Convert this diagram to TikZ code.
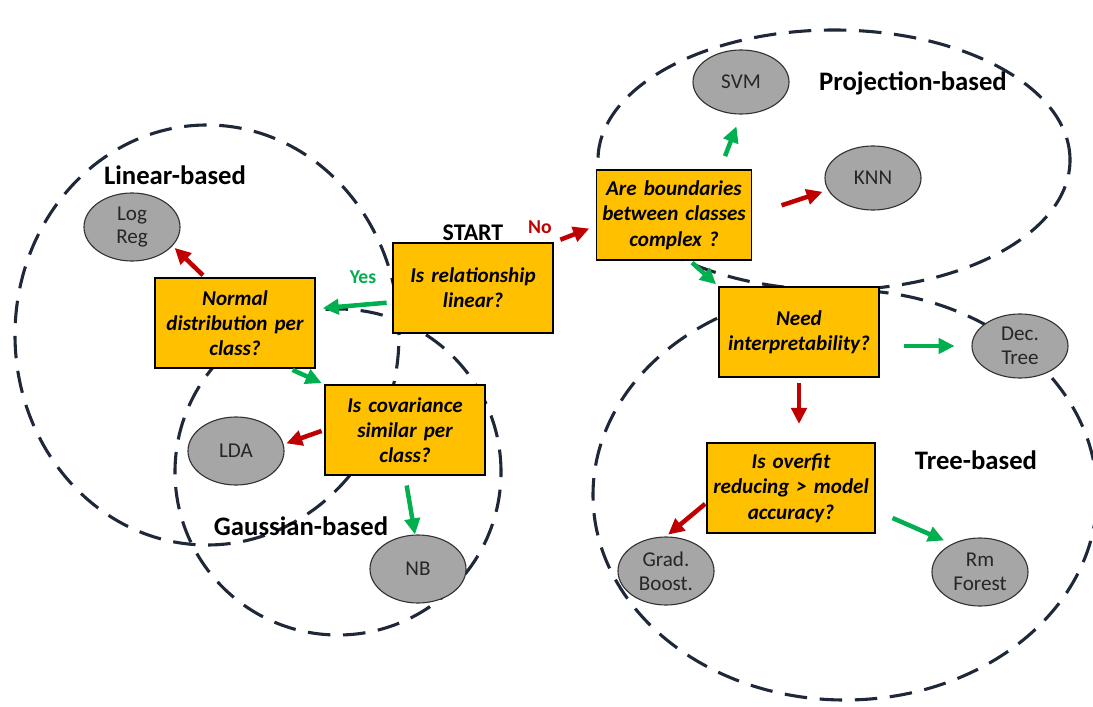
\documentclass[tikz,border=0pt]{standalone}
\usepackage{fontspec}
\setmainfont{Carlito}
\usetikzlibrary{shapes.geometric, arrows.meta, positioning}

\definecolor{boxorange}{HTML}{FFC000}
\definecolor{leafgray}{HTML}{A6A6A6}
\definecolor{yesgreen}{HTML}{00B050}
\definecolor{nored}{HTML}{C00000}
\definecolor{groupline}{HTML}{1E2838}

\begin{document}
\begin{tikzpicture}[x=0.25mm, y=-0.25mm]
      \tikzstyle{question} = [rectangle, fill=boxorange, draw=black, line width=1.1pt, minimum width=40mm, minimum height=22.5mm, text width=38mm, inner sep=1pt, align=center, font=\fontsize{15}{18}\selectfont\bfseries\itshape]
      \tikzstyle{model} = [ellipse, fill=leafgray, draw=black!80, line width=0.8pt, minimum width=24mm, minimum height=17mm, inner sep=0pt, align=center, text=black!85, font=\fontsize{15}{17}\selectfont]
      \tikzstyle{group} = [draw=groupline, line width=2.2pt, dash pattern=on 16pt off 9pt]
      \tikzstyle{grouplabel} = [font=\fontsize{19}{22}\selectfont\bfseries]
      \tikzstyle{yes} = [-{Triangle[length=4mm, width=3.8mm]}, line width=3.2pt, yesgreen, shorten <=2pt, shorten >=2pt]
      \tikzstyle{no} = [-{Triangle[length=4mm, width=3.8mm]}, line width=3.2pt, nored, shorten <=2pt, shorten >=2pt]

      \useasboundingbox (0,0) rectangle (1093,707);

      % dashed family outlines
      \draw[group] (207,335) ellipse [x radius=48mm, y radius=52.5mm];
      \draw[group] (338,472) ellipse [x radius=40.75mm, y radius=40.75mm];
      \draw[group] (834,160) ellipse [x radius=59mm, y radius=32.5mm];
      \draw[group] (845,495) ellipse [x radius=63mm, y radius=51.25mm];

      \node[grouplabel] (linlbl) at (175,175) {Linear-based};
      \node[grouplabel] (gaulbl) at (301,526) {Gaussian-based};
      \node[grouplabel] (projlbl) at (913,83) {Projection-based};
      \node[grouplabel] (treelbl) at (976,460) {Tree-based};

      % questions
      \node[question] (start) at (473,288) {Is relationship\\linear?};
      \node[font=\fontsize{17}{19}\selectfont\bfseries] (startlbl) at (473,233) {START};
      \node[question] (normal) at (235,323) {Normal\\distribution per\\class?};
      \node[question] (cov) at (405,430) {Is covariance\\similar per\\class?};
      \node[question, minimum width=38mm] (bound) at (674,215) {Are boundaries\\between classes\\complex ?};
      \node[question] (need) at (799,332) {Need\\interpretability?};
      \node[question, minimum width=42mm, text width=41mm] (over) at (791,488) {Is overfit\\reducing > model\\accuracy?};

      % models
      \node[model] (logreg) at (132,227) {Log\\Reg};
      \node[model] (lda) at (236,451) {LDA};
      \node[model] (nb) at (418,569) {NB};
      \node[model, minimum height=16mm] (svm) at (741,82) {SVM};
      \node[model, minimum height=16mm] (knn) at (873,178) {KNN};
      \node[model, minimum height=16mm] (dec) at (1020,346) {Dec.\\Tree};
      \node[model] (grad) at (666,571) {Grad.\\Boost.};
      \node[model] (forest) at (980,572) {Rm\\Forest};

      \node[text=yesgreen, font=\fontsize{14}{16}\selectfont\bfseries] (yeslbl) at (363,277) {Yes};
      \node[text=nored, font=\fontsize{14}{16}\selectfont\bfseries] (nolbl) at (540,227) {No};

      % decisions
      \draw[yes, shorten <=4pt, shorten >=5pt] (start.190) -- (normal.10);
      \draw[no] ([xshift=-7.5mm]normal.north) -- (logreg.-25);
      \draw[yes] ([xshift=13.75mm]normal.south) -- (cov.north west);
      \draw[no] (cov.west) -- (lda.8);
      \draw[yes, shorten <=7pt, shorten >=0pt] (cov.south) -- (nb.95);
      \draw[no, shorten <=5pt, shorten >=5pt] (start.north east) -- (bound.188);
      \draw[yes, shorten <=10pt, shorten >=9pt] ([xshift=11.5mm]bound.north) -- (svm.south);
      \draw[no, shorten <=22pt, shorten >=4pt] (bound.east) -- (knn.195);
      \draw[yes] ([xshift=4mm]bound.south) -- (need.north west);
      \draw[yes, shorten <=17pt, shorten >=12pt] (need.east |- dec.west) -- (dec.west);
      \draw[no, shorten <=4pt, shorten >=13pt] (need.south) -- (need.south |- over.north);
      \draw[no, shorten <=1pt] (over.190) -- (grad.north);
      \draw[yes, shorten <=13pt, shorten >=6pt] (over.345) -- (forest.135);
\end{tikzpicture}
\end{document}
